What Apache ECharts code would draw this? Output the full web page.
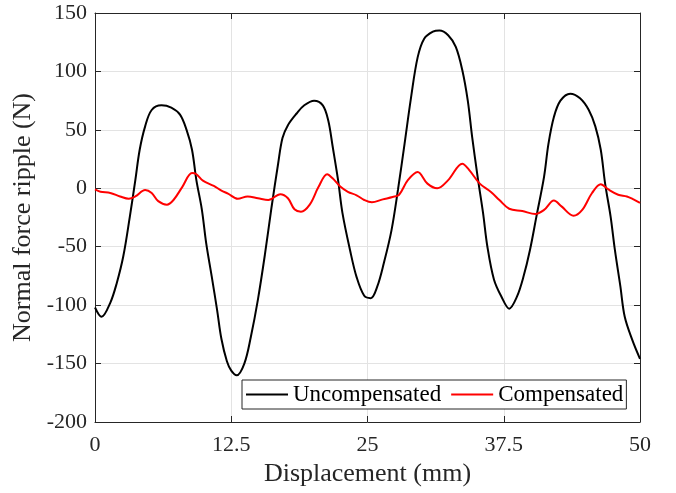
<!DOCTYPE html>
<html>
<head>
<meta charset="utf-8">
<script src="https://cdn.jsdelivr.net/npm/echarts@6/dist/echarts.min.js"></script>
<style>
  html, body { margin: 0; padding: 0; background: #fff; }
  #chart { width: 676px; height: 493px; }
</style>
</head>
<body>
<div id="chart"></div>
<script>
// displacement (mm) and normal force ripple (N)
const uncompX = [0, 0.6, 1.4, 2.0, 2.6, 3.2, 3.7, 4.1, 4.6, 5.2, 6.1, 7.0, 7.8, 8.4, 8.9, 9.3, 9.8, 10.2, 10.7, 11.2, 11.6, 12.1, 12.5, 13.0, 13.7, 14.3, 14.95, 15.6, 16.2, 16.8, 17.2, 17.7, 18.5, 19.2, 20.1, 20.9, 21.4, 21.8, 22.3, 22.7, 23.4, 24.0, 24.7, 25.3, 25.9, 26.5, 27.2, 27.8, 28.4, 29.0, 29.6, 30.2, 31.0, 31.6, 32.4, 33.1, 33.7, 34.2, 34.6, 35.1, 35.6, 36.0, 36.6, 37.3, 38.0, 38.7, 39.3, 39.9, 40.5, 41.2, 41.6, 42.1, 42.7, 43.6, 44.5, 45.3, 45.9, 46.4, 46.8, 47.3, 47.7, 48.2, 48.6, 49.3, 50]
const uncompY = [-102, -110, -98, -81, -58, -24, 7, 33, 53, 67, 71, 69, 63, 50, 33, 7, -18, -47, -75, -104, -129, -148, -156, -160, -150, -127, -95, -56, -16, 21, 43, 54, 64, 71, 75, 71, 58, 36, 7, -21, -53, -76, -92, -94, -84, -64, -36, -1, 38, 78, 112, 128, 134, 135, 131, 121, 101, 75, 44, 10, -21, -50, -78, -93, -103, -93, -76, -53, -24, 10, 38, 61, 75, 81, 77, 67, 53, 33, 4, -24, -53, -84, -110, -130, -146]

const compX = [0, 0.5, 1.4, 2.3, 3.1, 3.7, 4.6, 5.2, 5.8, 6.6, 7.2, 8.0, 8.9, 9.3, 9.9, 10.9, 11.6, 12.2, 13.1, 14.0, 14.95, 15.9, 17.0, 17.7, 18.3, 18.9, 19.7, 20.5, 21.3, 21.8, 22.5, 23.2, 24.0, 24.7, 25.4, 26.4, 27.3, 27.9, 28.7, 29.6, 30.5, 31.4, 32.4, 33.7, 34.3, 35.3, 36.3, 37.1, 38.0, 39.2, 40.4, 41.2, 42.1, 42.8, 43.9, 44.7, 45.6, 46.4, 47.1, 48.0, 48.8, 49.4, 50]
const compY = [-1, -3, -4, -7, -9, -7, -1.5, -4, -11, -14, -10, 1, 13, 12, 6.5, 2, -2, -4.5, -9, -7, -8.5, -10, -5, -8.5, -18, -20, -14, 1, 12, 8.5, 1.5, -3, -6, -10, -12, -9.5, -7.5, -5.5, 7, 14, 4, 0, 7, 21, 16, 4, -3, -10, -17.5, -19.5, -22, -18.5, -10.5, -15.5, -23.5, -18.5, -4, 3.5, -1, -5.5, -7, -9.5, -12.5]

const xTicks = [0, 12.5, 25, 37.5, 50]

const zip = (xs, ys) => xs.map((x, i) => [x, ys[i]])

const font = 'Liberation Serif'
const ink = '#262626'

const chart = echarts.init(document.getElementById('chart'))

const boxAxis = {
    axisLine: { show: true, onZero: false, lineStyle: { color: ink, width: 1 } },
    axisTick: { show: true, inside: true, length: 6, lineStyle: { color: ink } },
    axisLabel: { show: false },
    splitLine: { show: false }
}

chart.setOption({
    animation: false,
    grid: { left: 95, right: 36, top: 13, bottom: 71 },
    legend: {
        left: 242,
        top: 380,
        orient: 'horizontal',
        padding: [3, 3, 3, 4],
        itemGap: 10,
        itemWidth: 42,
        itemHeight: 2,
        backgroundColor: '#fff',
        borderColor: ink,
        borderWidth: 1,
        borderRadius: 0,
        textStyle: { fontFamily: font, fontSize: 23, color: '#000' },
        data: [
            { name: 'Uncompensated', icon: 'rect' },
            { name: 'Compensated', icon: 'rect' }
        ]
    },
    xAxis: [
        {
            type: 'value',
            min: 0,
            max: 50,
            interval: 12.5,
            name: 'Displacement (mm)',
            nameLocation: 'middle',
            nameGap: 38,
            nameTextStyle: { fontFamily: font, fontSize: 26, color: ink },
            axisLine: { show: true, onZero: false, lineStyle: { color: ink, width: 1 } },
            axisTick: { show: true, inside: true, length: 6, lineStyle: { color: ink } },
            axisLabel: {
                margin: 12,
                fontFamily: font, fontSize: 22, color: ink,
                formatter: v => xTicks.includes(v) ? String(v) : ''
            },
            splitLine: { show: true, lineStyle: { color: '#e3e3e3', width: 1 } }
        },
        Object.assign({ type: 'value', position: 'top', min: 0, max: 50, interval: 12.5 }, boxAxis)
    ],
    yAxis: [
        {
            type: 'value',
            min: -200,
            max: 150,
            interval: 50,
            name: 'Normal force ripple (N)',
            nameLocation: 'middle',
            nameGap: 52,
            nameTextStyle: { fontFamily: font, fontSize: 26, color: ink },
            axisLine: { show: true, onZero: false, lineStyle: { color: ink, width: 1 } },
            axisTick: { show: true, inside: true, length: 6, lineStyle: { color: ink } },
            axisLabel: { margin: 8, fontFamily: font, fontSize: 22, color: ink },
            splitLine: { show: true, lineStyle: { color: '#e3e3e3', width: 1 } }
        },
        Object.assign({ type: 'value', position: 'right', min: -200, max: 150, interval: 50 }, boxAxis)
    ],
    series: [
        {
            name: 'Uncompensated',
            type: 'line',
            data: zip(uncompX, uncompY),
            smooth: 0.35,
            symbol: 'none',
            lineStyle: { color: '#000', width: 2 },
            itemStyle: { color: '#000' },
            z: 2
        },
        {
            name: 'Compensated',
            type: 'line',
            data: zip(compX, compY),
            smooth: 0.35,
            symbol: 'none',
            lineStyle: { color: '#ff0000', width: 2 },
            itemStyle: { color: '#ff0000' },
            z: 3
        }
    ]
})
</script>
</body>
</html>
